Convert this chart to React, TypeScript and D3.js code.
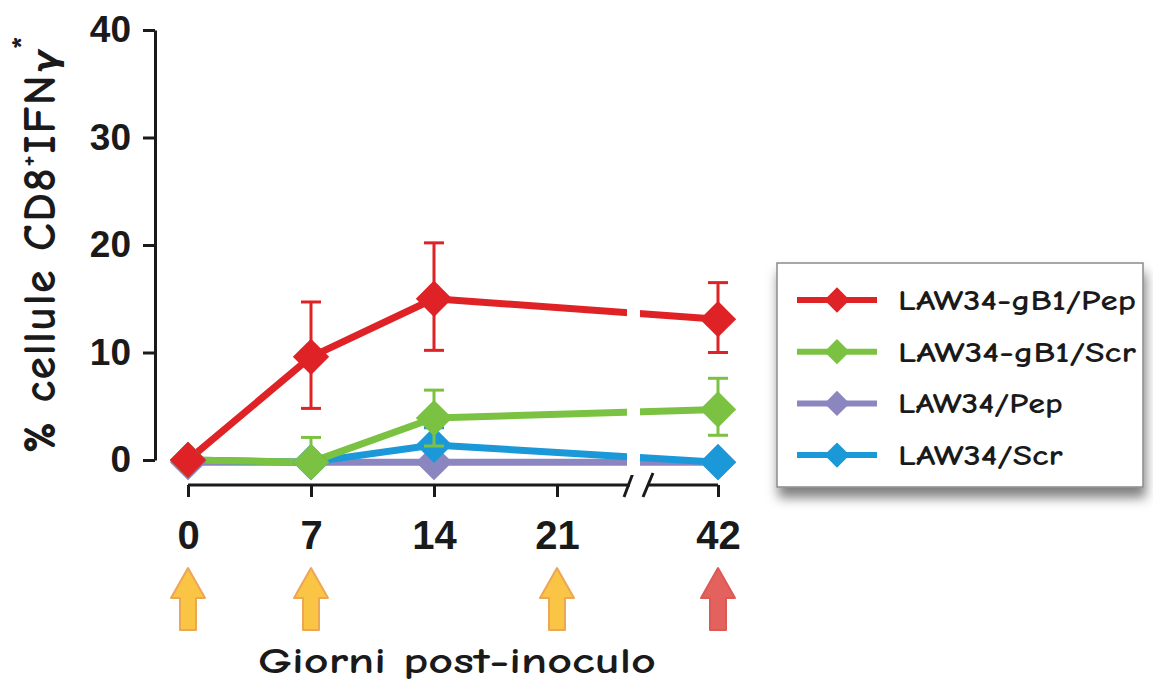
import React, { useRef, useEffect } from 'react';
import * as d3 from 'd3';

// data
const days = [0, 7, 14, 42];
const xTicks = [0, 7, 14, 21, 42];
const yTicks = [0, 10, 20, 30, 40];
const arrowDays = [0, 7, 21, 42];

const seriesNames = ['LAW34/Pep', 'LAW34/Scr', 'LAW34-gB1/Scr', 'LAW34-gB1/Pep'];
const seriesColors = ['#8b86bf', '#1b98d8', '#7cc242', '#df2226'];
const pepSuper = [-0.2, -0.2, -0.2, -0.2];
const scrSimple = [0, -0.2, 1.4, -0.2];
const gb1Scr = [0, -0.2, 3.9, 4.7];
const gb1Pep = [0, 9.6, 15.0, 13.1];
const seriesValues = [pepSuper, scrSimple, gb1Scr, gb1Pep];
// [low, high] error bars, null where none is drawn
const gb1PepErr = [null, [4.8, 14.7], [10.2, 20.2], [10.0, 16.5]];
const gb1ScrErr = [null, [-0.2, 2.1], [1.3, 6.5], [2.3, 7.6]];
const scrErr = [null, null, [1.4, 3.0], null];
const seriesErr = [[null, null, null, null], scrErr, gb1ScrErr, gb1PepErr];

const legendOrder = [3, 2, 0, 1];

const App = () => {
  const ref = useRef<SVGSVGElement>(null);

  useEffect(() => {
    const svg = d3.select(ref.current);
    svg.selectAll('*').remove();

    const x = d3.scaleLinear().domain([0, 21, 42]).range([188, 557, 718]);
    const y = d3.scaleLinear().domain([0, 40]).range([460, 30]);

    const defs = svg.append('defs');
    const f = defs.append('filter').attr('id', 'shadow')
      .attr('x', '-10%').attr('y', '-10%').attr('width', '120%').attr('height', '130%');
    f.append('feDropShadow').attr('dx', 2).attr('dy', 10).attr('stdDeviation', 6)
      .attr('flood-color', '#000').attr('flood-opacity', 0.5);

    // y axis
    const yAxis = svg.append('g').attr('transform', 'translate(155,0)')
      .call(d3.axisLeft(y).tickValues(yTicks).tickSize(12).tickSizeOuter(0).tickPadding(12));
    yAxis.selectAll('path, line').attr('stroke', '#1a1a1a').attr('stroke-width', 3);
    yAxis.selectAll('text')
      .style('font-family', 'Liberation Sans, Arial, sans-serif')
      .style('font-weight', 'bold').style('font-size', '37px').attr('fill', '#1a1a1a');

    // x axis
    const xAxis = svg.append('g').attr('transform', 'translate(0,485)')
      .call(d3.axisBottom(x).tickValues(xTicks).tickSize(12).tickSizeOuter(0).tickPadding(24));
    xAxis.selectAll('path, line').attr('stroke', '#1a1a1a').attr('stroke-width', 3);
    xAxis.select('.domain').attr('d', `M${x(0)},0H${x(42)}`);
    xAxis.selectAll('text')
      .style('font-family', 'Liberation Sans, Arial, sans-serif')
      .style('font-weight', 'bold').style('font-size', '40px').attr('fill', '#1a1a1a');
    // axis break
    xAxis.append('rect').attr('x', 630).attr('y', -4).attr('width', 18).attr('height', 8).attr('fill', '#fff');
    [[624, 633], [643, 653]].forEach(([a, b]) => {
      xAxis.append('line').attr('x1', a).attr('y1', 12).attr('x2', b).attr('y2', -12)
        .attr('stroke', '#1a1a1a').attr('stroke-width', 3);
    });

    const diamond = d3.symbol().type(d3.symbolSquare);

    // lines
    const line = d3.line<number>().x((_, i) => x(days[i])).y(d => y(d));
    const plot = svg.append('g');
    seriesValues.forEach((vals, s) => {
      plot.append('path').attr('d', line(vals)).attr('fill', 'none')
        .attr('stroke', seriesColors[s]).attr('stroke-width', 7).attr('stroke-linejoin', 'round');
    });
    // gap in the lines at the break
    plot.append('rect').attr('x', 627).attr('y', 240).attr('width', 13).attr('height', 235).attr('fill', '#fff');

    seriesValues.forEach((vals, s) => {
      const g = plot.append('g');
      seriesErr[s].forEach((e, i) => {
        if (!e) return;
        const cx = x(days[i]);
        g.append('line').attr('x1', cx).attr('x2', cx).attr('y1', y(e[0])).attr('y2', y(e[1]))
          .attr('stroke', seriesColors[s]).attr('stroke-width', 3);
        e.forEach(v => {
          g.append('line').attr('x1', cx - 10).attr('x2', cx + 10).attr('y1', y(v)).attr('y2', y(v))
            .attr('stroke', seriesColors[s]).attr('stroke-width', 3);
        });
      });
      vals.forEach((v, i) => {
        g.append('path').attr('d', diamond.size(660)())
          .attr('transform', `translate(${x(days[i])},${y(v)}) rotate(45)`)
          .attr('fill', seriesColors[s]);
      });
    });

    // arrows
    arrowDays.forEach((d, i) => {
      const cx = x(d);
      const red = i === arrowDays.length - 1;
      const p = `M${cx},568 L${cx + 17},598 L${cx + 8},598 L${cx + 8},630 L${cx - 8},630 L${cx - 8},598 L${cx - 17},598 Z`;
      svg.append('path').attr('d', p)
        .attr('fill', red ? '#e3625d' : '#fac545')
        .attr('stroke', red ? '#dc5a55' : '#eda556').attr('stroke-width', 2).attr('stroke-linejoin', 'round');
    });

    const comic = '"Comic Sans MS", "Comic Neue", "DejaVu Sans", sans-serif';

    // y title
    const yt = svg.append('text').attr('transform', 'translate(55,244) rotate(-90)')
      .attr('text-anchor', 'middle').attr('fill', '#1a1a1a')
      .style('font-family', comic).style('font-size', '46px').style('font-weight', 'bold')
      .style('letter-spacing', '1.5px');
    yt.append('tspan').text('% cellule CD8');
    yt.append('tspan').text('+').style('font-size', '26px').attr('dy', -19);
    yt.append('tspan').text('IFN').attr('dy', 19);
    yt.append('tspan').text('γ').style('font-style', 'italic').style('font-size', '34px').attr('dy', 2);
    yt.append('tspan').text('*').style('font-size', '34px').attr('dy', -22);

    // x title
    svg.append('text').attr('x', 457).attr('y', 673).attr('text-anchor', 'middle')
      .attr('fill', '#1a1a1a').style('font-family', comic).style('font-size', '37px')
      .style('font-weight', 'bold')
      .attr('textLength', 398).attr('lengthAdjust', 'spacingAndGlyphs')
      .text('Giorni post-inoculo');

    // legend
    const lg = svg.append('g');
    lg.append('rect').attr('x', 777).attr('y', 263).attr('width', 366).attr('height', 224)
      .attr('fill', '#fff').attr('stroke', '#8a8a8a').attr('stroke-width', 1.5)
      .attr('filter', 'url(#shadow)');
    legendOrder.forEach((s, k) => {
      const ly = 300 + k * 51.7;
      lg.append('line').attr('x1', 797).attr('x2', 877).attr('y1', ly).attr('y2', ly)
        .attr('stroke', seriesColors[s]).attr('stroke-width', 6);
      lg.append('path').attr('d', diamond.size(320)())
        .attr('transform', `translate(837,${ly}) rotate(45)`).attr('fill', seriesColors[s]);
      lg.append('text').attr('x', 898).attr('y', ly + 10).attr('fill', '#1a1a1a')
        .style('font-family', comic).style('font-size', '28px').style('font-weight', 'bold')
        .attr('textLength', seriesNames[s].length * 18.3).attr('lengthAdjust', 'spacingAndGlyphs')
        .text(seriesNames[s]);
    });
  }, []);

  return (
    <svg ref={ref} width={1153} height={688}
      style={{ position: 'absolute', left: 0, top: 0, background: '#fff' }} />
  );
};

export default App;
